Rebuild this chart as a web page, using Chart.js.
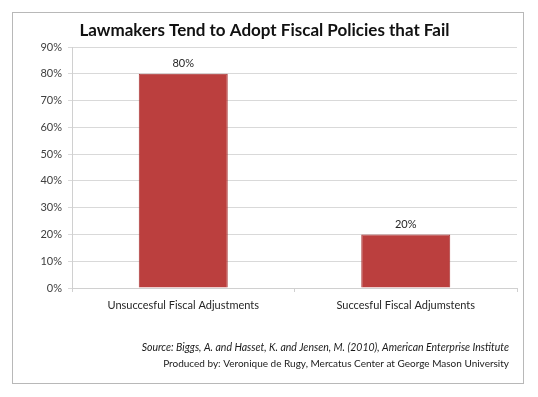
<!DOCTYPE html>
<html>
<head>
<meta charset="utf-8">
<script src="https://cdn.jsdelivr.net/npm/chart.js@4/dist/chart.umd.min.js"></script>
<style>
    html, body { margin: 0; padding: 0; background: #fff; }
    #wrap { width: 538px; height: 397px; position: relative; }
</style>
</head>
<body>
<div id="wrap"><canvas id="chart" width="538" height="397"></canvas></div>
<script>
const categories = [ "Unsuccesful Fiscal Adjustments", "Succesful Fiscal Adjumstents" ];
const shares = [ 80, 20 ];
const yTicks = [ 0, 10, 20, 30, 40, 50, 60, 70, 80, 90 ];
const chartTitle = "Lawmakers Tend to Adopt Fiscal Policies that Fail";
const sourceLine = "Source: Biggs, A. and Hasset, K. and Jensen, M. (2010), American Enterprise Institute";
const producedLine = "Produced by: Veronique de Rugy, Mercatus Center at George Mason University";

const FONT = "Lato, 'Open Sans', sans-serif";

// outer frame + footer text
const framePlugin = {
    id: "frame",
    beforeDraw(chart) {
        const ctx = chart.ctx;
        ctx.save();
        ctx.strokeStyle = "#b8b8b8";
        ctx.lineWidth = 1;
        ctx.strokeRect(12.5, 12.5, 511, 371);
        ctx.restore();
    },
    afterDraw(chart) {
        const ctx = chart.ctx;
        ctx.save();
        ctx.fillStyle = "#1a1a1a";
        ctx.textAlign = "right";
        ctx.textBaseline = "middle";
        ctx.font = "italic 10.5px " + FONT;
        ctx.fillText(sourceLine, 509, 348);
        ctx.font = "10px " + FONT;
        ctx.fillText(producedLine, 509, 364);
        ctx.restore();
    }
};

// value labels above the bars
const labelPlugin = {
    id: "barLabels",
    afterDatasetsDraw(chart) {
        const ctx = chart.ctx;
        const meta = chart.getDatasetMeta(0);
        ctx.save();
        ctx.fillStyle = "#262626";
        ctx.font = "11px " + FONT;
        ctx.textAlign = "center";
        ctx.textBaseline = "middle";
        meta.data.forEach(function(bar, i) {
            ctx.fillText(shares[i] + "%", bar.x, bar.y - 10);
        });
        ctx.restore();
    }
};

new Chart(document.getElementById("chart"), {
    type: "bar",
    data: {
        labels: categories,
        datasets: [{
            data: shares,
            backgroundColor: "#bb3f3e",
            borderColor: "#a83535",
            borderWidth: 1,
            categoryPercentage: 1,
            barPercentage: 0.4
        }]
    },
    options: {
        responsive: false,
        animation: false,
        layout: { padding: { left: 12, right: 21, top: 0, bottom: 79 } },
        plugins: {
            legend: { display: false },
            tooltip: { enabled: false },
            title: {
                display: true,
                text: chartTitle,
                color: "#111",
                font: { family: FONT, size: 17, weight: "bold", lineHeight: 1.2 },
                padding: { top: 20, bottom: 6.6 }
            }
        },
        scales: {
            x: {
                grid: { drawOnChartArea: false, color: "#d0d0d0", tickLength: 4 },
                border: { color: "#d0d0d0" },
                ticks: { color: "#262626", font: { family: FONT, size: 11 }, padding: 7 },
                afterFit(scale) { scale.height = 30; }
            },
            y: {
                min: 0,
                max: 90,
                afterBuildTicks(scale) { scale.ticks = yTicks.map(v => ({ value: v })); },
                grid: { color: "#d9d9d9", tickLength: 4 },
                border: { color: "#d0d0d0" },
                ticks: {
                    color: "#404040",
                    font: { family: FONT, size: 11 },
                    padding: 6,
                    callback: v => v + "%"
                },
                afterFit(scale) { scale.width = 60; }
            }
        }
    },
    plugins: [ framePlugin, labelPlugin ]
});
</script>
</body>
</html>
